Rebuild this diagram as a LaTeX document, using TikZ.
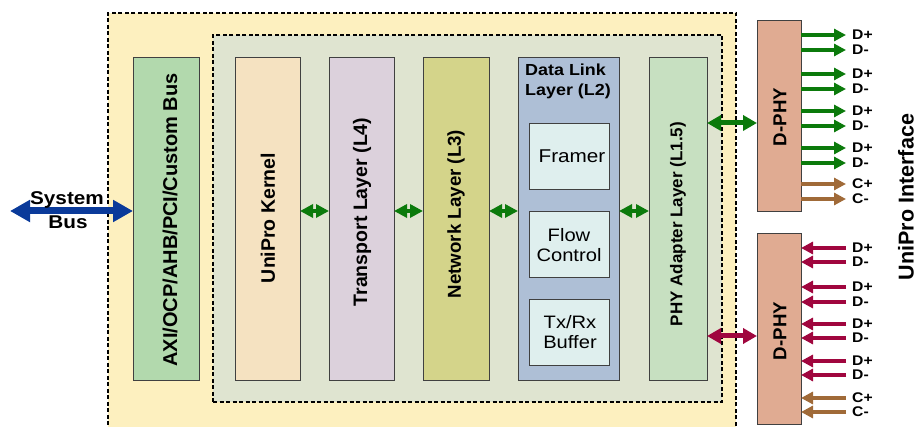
\documentclass[tikz,border=0pt]{standalone}
\usepackage{fontspec}
\setmainfont{Liberation Sans}
\newfontfamily\widefont{Liberation Sans}[FakeStretch=1.12]
\usetikzlibrary{arrows.meta}
\definecolor{outerY}{HTML}{FDF0BF}
\definecolor{innerG}{HTML}{DFE4D0}
\definecolor{axiG}{HTML}{B2D9AD}
\definecolor{kernelC}{HTML}{F5E2C1}
\definecolor{transC}{HTML}{DCD1DC}
\definecolor{netC}{HTML}{D4D48A}
\definecolor{dllC}{HTML}{AEBFD6}
\definecolor{subC}{HTML}{DFEFEE}
\definecolor{phyG}{HTML}{C7E0C1}
\definecolor{dphyC}{HTML}{E0AB92}
\definecolor{greenA}{HTML}{0B7A0B}
\definecolor{redA}{HTML}{A0063E}
\definecolor{brownA}{HTML}{A06A38}
\definecolor{blueA}{HTML}{0A3A9A}
\tikzset{
  box/.style={draw=black!75, line width=0.8pt, inner sep=0pt, outer sep=0pt},
  container/.style={draw=black, line width=1.1pt, dash pattern=on 4pt off 2.5pt, inner sep=0pt, outer sep=0pt},
  vlabel/.style={rotate=90, font=\bfseries, inner sep=0pt},
  hlabel/.style={font=\widefont, align=center, inner sep=0pt},
  lanelbl/.style={font=\widefont\bfseries\fontsize{14}{14}\selectfont, anchor=west, inner sep=0pt},
  smallarr/.style={greenA, line width=4.5pt, {Triangle[length=13pt,width=13pt]}-{Triangle[length=13pt,width=13pt]}},
  bigarr/.style={line width=5pt, {Triangle[length=14pt,width=15pt]}-{Triangle[length=14pt,width=15pt]}},
  lanearr/.style={line width=4.5pt, -{Triangle[length=12pt,width=12pt]}},
}
\begin{document}
\begin{tikzpicture}[x=1pt,y=-1pt]
\useasboundingbox (0,0) rectangle (922,427);
\clip (0,0) rectangle (922,427);
% containers
\node[container, fill=outerY, minimum width=628pt, minimum height=422pt] (outer) at (422,224) {};
\node[container, fill=innerG, minimum width=509pt, minimum height=367pt] (inner) at (467.5,218.5) {};
% layer boxes
\node[box, fill=axiG, minimum width=66pt, minimum height=323pt] (axi) at (166,218.5) {};
\node[box, fill=kernelC, minimum width=65pt, minimum height=323pt] (kernel) at (267.5,218.5) {};
\node[box, fill=transC, minimum width=65pt, minimum height=323pt] (transport) at (361.5,218.5) {};
\node[box, fill=netC, minimum width=66pt, minimum height=323pt] (network) at (456,218.5) {};
\node[box, fill=dllC, minimum width=101pt, minimum height=323pt] (dll) at (568.5,218.5) {};
\node[box, fill=phyG, minimum width=58pt, minimum height=323pt] (phy) at (678,218.5) {};
\node[box, fill=subC, minimum width=80pt, minimum height=66pt] (framer) at (569,156) {};
\node[box, fill=subC, minimum width=80pt, minimum height=66pt] (flow) at (569,244) {};
\node[box, fill=subC, minimum width=80pt, minimum height=66pt] (txrx) at (569,332) {};
\node[box, fill=dphyC, minimum width=44pt, minimum height=191pt] (dphyA) at (779,115.5) {};
\node[box, fill=dphyC, minimum width=44pt, minimum height=191pt] (dphyB) at (779,328.5) {};
% labels
\node[vlabel, font=\bfseries\fontsize{20}{20}\selectfont] (axiL) at (170,220) {AXI/OCP/AHB/PCI/Custom Bus};
\node[vlabel, font=\bfseries\fontsize{19.5}{19.5}\selectfont] (kernelL) at (268,218) {UniPro Kernel};
\node[vlabel, font=\bfseries\fontsize{19.5}{19.5}\selectfont] (transL) at (362,212) {Transport Layer (L4)};
\node[vlabel, font=\bfseries\fontsize{18.7}{18.7}\selectfont] (netL) at (456,214) {Network Layer (L3)};
\node[vlabel, font=\bfseries\fontsize{17}{17}\selectfont] (phyL) at (678,224) {PHY Adapter Layer (L1.5)};
\node[vlabel, font=\bfseries\fontsize{18.7}{18.7}\selectfont] (dphyAL) at (780,117) {D-PHY};
\node[vlabel, font=\bfseries\fontsize{18.7}{18.7}\selectfont] (dphyBL) at (780,331) {D-PHY};
\node[vlabel, font=\bfseries\fontsize{21.5}{21.5}\selectfont] (uniL) at (906,197) {UniPro Interface};
\node[hlabel, font=\widefont\bfseries\fontsize{16}{19.5}\selectfont, anchor=north west, align=left] (dllL) at (525,64) {Data Link\\Layer (L2)};
\node[hlabel, font=\widefont\fontsize{18.5}{18.5}\selectfont] (framerL) at (572,156) {Framer};
\node[hlabel, font=\widefont\fontsize{18}{20}\selectfont] (flowL) at (569,245) {Flow\\Control};
\node[hlabel, font=\widefont\fontsize{18}{20}\selectfont] (txrxL) at (570,332) {Tx/Rx\\Buffer};
% system bus
\coordinate (sysEnd) at (10,211);
\draw[blueA, line width=7pt, {Triangle[length=20pt,width=21pt]}-{Triangle[length=20pt,width=21pt]}] (sysEnd) -- (axi.west |- sysEnd);
\node[font=\widefont\bfseries\fontsize{18.5}{18.5}\selectfont, inner sep=0pt] (sysL) at (67,199.5) {System};
\node[font=\widefont\bfseries\fontsize{18.5}{18.5}\selectfont, inner sep=0pt] (busL) at (68,222.5) {Bus};
% inter-layer arrows
\draw[smallarr] ([yshift=7.5pt]kernel.east) -- ([yshift=7.5pt]transport.west);
\draw[smallarr] ([yshift=7.5pt]transport.east) -- ([yshift=7.5pt]network.west);
\draw[smallarr] ([yshift=7.5pt]network.east) -- ([yshift=7.5pt]dll.west);
\draw[smallarr] ([yshift=7.5pt]dll.east) -- ([yshift=7.5pt]phy.west);
% PHY adapter to D-PHY
\coordinate (tyA) at (0,123);
\coordinate (tyB) at (0,336);
\draw[bigarr, greenA] (phy.east |- tyA) -- (dphyA.west |- tyA);
\draw[bigarr, redA] (phy.east |- tyB) -- (dphyB.west |- tyB);
% lanes top (outgoing)
\foreach \yy/\tx/\col [count=\i] in {35/D+/greenA,50/D-/greenA,74/D+/greenA,89/D-/greenA,111/D+/greenA,126/D-/greenA,148/D+/greenA,163/D-/greenA,184/C+/brownA,199/C-/brownA}{
  \coordinate (ta\i) at (846,\yy);
  \draw[lanearr, \col] (dphyA.east |- ta\i) -- (ta\i);
  \node[lanelbl] (la\i) at (852,\yy) {\tx};
}
% lanes bottom (incoming)
\foreach \yy/\tx/\col [count=\i] in {248/D+/redA,262/D-/redA,287/D+/redA,302/D-/redA,324/D+/redA,338/D-/redA,361/D+/redA,375/D-/redA,398/C+/brownA,412/C-/brownA}{
  \coordinate (tb\i) at (846,\yy);
  \draw[lanearr, \col] (tb\i) -- (dphyB.east |- tb\i);
  \node[lanelbl] (lb\i) at (852,\yy) {\tx};
}
\end{tikzpicture}
\end{document}
